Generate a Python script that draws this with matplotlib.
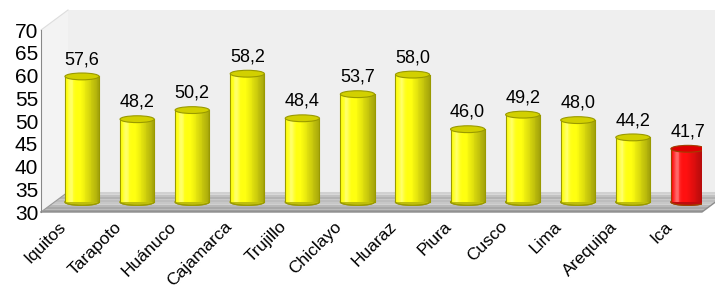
import numpy as np
import matplotlib.pyplot as plt
import matplotlib.transforms as mtransforms
from matplotlib.patches import Polygon, Ellipse
from matplotlib.colors import to_rgb

plt.rcParams['font.family'] = ['Liberation Sans', 'DejaVu Sans']

ciudades = ['Iquitos', 'Tarapoto', 'Huánuco', 'Cajamarca', 'Trujillo', 'Chiclayo',
            'Huaraz', 'Piura', 'Cusco', 'Lima', 'Arequipa', 'Ica']
valores = [57.6, 48.2, 50.2, 58.2, 48.4, 53.7, 58.0, 46.0, 49.2, 48.0, 44.2, 41.7]
etiquetas = ['57,6', '48,2', '50,2', '58,2', '48,4', '53,7', '58,0', '46,0', '49,2', '48,0', '44,2', '41,7']
colores = ['yellow'] * 11 + ['red']

# profundidad del efecto 3D (en unidades de datos)
dx, dy = 0.49, 4.4
base = 30
ancho = 0.62
alto_elipse = 1.5

fig = plt.figure(figsize=(7.15, 2.91), dpi=100)
ax = fig.add_axes([41 / 715, 79 / 291, 661 / 715, 202 / 291])
ax.set_xlim(-0.5, 11.5)
ax.set_ylim(30, 74.4)
for s in ['top', 'right', 'bottom']:
    ax.spines[s].set_visible(False)
ax.spines['left'].set_bounds(30, 70)
ax.spines['left'].set_color('#888888')
ax.patch.set_visible(False)

# pared de fondo y lateral
ax.add_patch(Polygon([(-0.5 + dx, base + dy), (12.5, base + dy), (12.5, 74.4), (-0.5 + dx, 74.4)],
                     closed=True, fc='#efefef', ec='none', clip_on=False, zorder=0))
ax.add_patch(Polygon([(-0.5, base), (-0.5 + dx, base + dy), (-0.5 + dx, 74.4), (-0.5, 70)],
                     closed=True, fc='#f3f3f3', ec='none', clip_on=False, zorder=0))
ax.plot([-0.5, -0.5 + dx], [70, 74.4], color='#dddddd', lw=0.8, clip_on=False, zorder=0)

# piso
grises = [0.62, 0.66, 0.72, 0.78, 0.74, 0.70, 0.76, 0.82]
n_piso = len(grises)
for k, g in enumerate(grises):
    y0 = base + dy * k / n_piso
    y1 = base + dy * (k + 1) / n_piso
    ax.add_patch(Polygon([(-0.5 + dx * k / n_piso, y0), (11.5 + dx * k / n_piso, y0),
                          (11.5 + dx * (k + 1) / n_piso, y1), (-0.5 + dx * (k + 1) / n_piso, y1)],
                         closed=True, fc=(g, g, g), ec='none', clip_on=False, zorder=1))
ax.plot([-0.5, 11.5, 11.5 + dx], [base, base, base + dy], color='#8c8c8c', lw=1.0, clip_on=False, zorder=1)
ax.plot([-0.5, -0.5 + dx], [base, base + dy], color='#999999', lw=0.8, clip_on=False, zorder=1)

# cilindros
n = 40
t = (np.arange(n) + 0.5) / n
sombra = 1 - 0.36 * np.clip((t - 0.45) / 0.55, 0, 1) ** 1.1
brillo = 0.35 * np.exp(-((t - 0.18) / 0.08) ** 2)
arco = np.linspace(np.pi, 2 * np.pi, 40)
for i, (v, c) in enumerate(zip(valores, colores)):
    xc = i + dx / 2
    yb = base + dy / 2
    yt = v + dy / 2
    if c == 'yellow':
        claro, tapa, borde = np.array(to_rgb('#ffff10')), '#d2d000', '#9a9a00'
    else:
        claro, tapa, borde = np.array(to_rgb('#ff1010')), '#dd0000', '#a04000'
    ax.add_patch(Ellipse((xc, yb), ancho, alto_elipse, fc=claro * 0.75, ec=borde, lw=0.8, zorder=2))
    xs = xc - ancho / 2 + t * ancho
    cols = [np.clip(claro * s + b, 0, 1) for s, b in zip(sombra, brillo)]
    ax.bar(xs, yt - yb, width=ancho / n * 1.05, bottom=yb, color=cols, lw=0, zorder=3)
    ax.plot([xc - ancho / 2, xc - ancho / 2], [yb, yt], color=borde, lw=0.8, zorder=4)
    ax.plot([xc + ancho / 2, xc + ancho / 2], [yb, yt], color=borde, lw=0.8, zorder=4)
    ax.plot(xc + ancho / 2 * np.cos(arco), yb + alto_elipse / 2 * np.sin(arco),
            color=borde, lw=0.8, zorder=4)
    ax.add_patch(Ellipse((xc, yt), ancho, alto_elipse, fc=tapa, ec=borde, lw=0.8, zorder=5))
    ax.text(xc, yt + 2.7, etiquetas[i], ha='center', va='baseline', fontsize=13, zorder=6)

ax.set_yticks(range(30, 75, 5))
ax.tick_params(axis='y', length=0, pad=2, labelsize=15)
ax.set_xticks(range(len(ciudades)))
ax.set_xticklabels(ciudades, rotation=45, ha='right', rotation_mode='anchor', fontsize=12.5)
ax.tick_params(axis='x', length=0, pad=5)
desplazar = mtransforms.ScaledTranslation(-10 / 100, 0, fig.dpi_scale_trans)
for lbl in ax.get_xticklabels():
    lbl.set_transform(lbl.get_transform() + desplazar)

fig.savefig('out.png', dpi=100)
